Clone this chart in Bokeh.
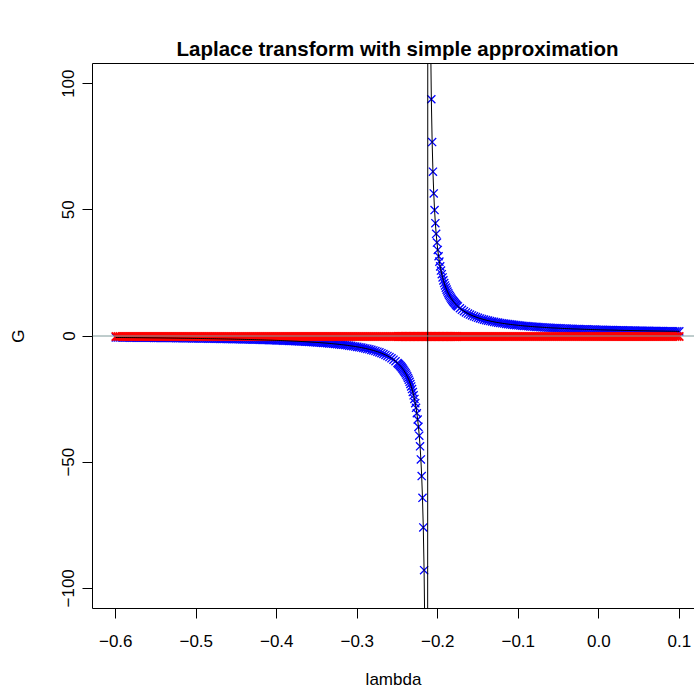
from bokeh.plotting import figure
from bokeh.models import LinearAxis, FixedTicker, Span, Range1d
from bokeh.embed import file_html
from bokeh.resources import INLINE

# ---- data ----
lam_left = [-0.6, -0.5975, -0.595, -0.5925, -0.59, -0.5875, -0.585, -0.5825, -0.58, -0.5775,
            -0.575, -0.5725, -0.57, -0.5675, -0.565, -0.5625, -0.56, -0.5575, -0.555, -0.5525,
            -0.55, -0.5475, -0.545, -0.5425, -0.54, -0.5375, -0.535, -0.5325, -0.53, -0.5275,
            -0.525, -0.5225, -0.52, -0.5175, -0.515, -0.5125, -0.51, -0.5075, -0.505, -0.5025,
            -0.5, -0.4975, -0.495, -0.4925, -0.49, -0.4875, -0.485, -0.4825, -0.48, -0.4775,
            -0.475, -0.4725, -0.47, -0.4675, -0.465, -0.4625, -0.46, -0.4575, -0.455, -0.4525,
            -0.45, -0.4475, -0.445, -0.4425, -0.44, -0.4375, -0.435, -0.4325, -0.43, -0.4275,
            -0.425, -0.4225, -0.42, -0.4175, -0.415, -0.4125, -0.41, -0.4075, -0.405, -0.4025,
            -0.4, -0.3975, -0.395, -0.3925, -0.39, -0.3875, -0.385, -0.3825, -0.38, -0.3775,
            -0.375, -0.3725, -0.37, -0.3675, -0.365, -0.3625, -0.36, -0.3575, -0.355, -0.3525,
            -0.35, -0.3475, -0.345, -0.3425, -0.34, -0.3375, -0.335, -0.3325, -0.33, -0.3275,
            -0.325, -0.3225, -0.32, -0.3175, -0.315, -0.3125, -0.31, -0.3075, -0.305, -0.3025,
            -0.3, -0.2975, -0.295, -0.2925, -0.29, -0.2875, -0.285, -0.2825, -0.28, -0.2775,
            -0.275, -0.2725, -0.27, -0.2675, -0.265, -0.2625, -0.26, -0.2575, -0.255, -0.2525,
            -0.25]
G_left = [-0.58, -0.59, -0.60, -0.61, -0.61, -0.62, -0.63, -0.64, -0.64, -0.65,
          -0.66, -0.67, -0.67, -0.68, -0.69, -0.70, -0.71, -0.72, -0.73, -0.74,
          -0.74, -0.75, -0.76, -0.77, -0.78, -0.79, -0.80, -0.81, -0.82, -0.83,
          -0.84, -0.85, -0.87, -0.88, -0.89, -0.90, -0.91, -0.92, -0.94, -0.95,
          -0.96, -0.97, -0.99, -1.00, -1.01, -1.03, -1.04, -1.06, -1.07, -1.08,
          -1.10, -1.12, -1.13, -1.15, -1.16, -1.18, -1.20, -1.21, -1.23, -1.25,
          -1.27, -1.29, -1.31, -1.33, -1.35, -1.37, -1.39, -1.41, -1.43, -1.45,
          -1.48, -1.50, -1.52, -1.55, -1.57, -1.60, -1.63, -1.65, -1.68, -1.71,
          -1.74, -1.77, -1.80, -1.83, -1.87, -1.90, -1.93, -1.97, -2.01, -2.05,
          -2.08, -2.13, -2.17, -2.21, -2.25, -2.30, -2.35, -2.40, -2.45, -2.50,
          -2.55, -2.61, -2.67, -2.73, -2.79, -2.86, -2.93, -3.00, -3.07, -3.15,
          -3.23, -3.32, -3.41, -3.50, -3.60, -3.70, -3.81, -3.92, -4.04, -4.17,
          -4.30, -4.44, -4.59, -4.75, -4.92, -5.10, -5.29, -5.50, -5.72, -5.96,
          -6.22, -6.50, -6.80, -7.14, -7.50, -7.90, -8.34, -8.83, -9.38, -10.00,
          -10.70]

lam_mid = [-0.249, -0.248, -0.247, -0.246, -0.245, -0.244, -0.243, -0.242, -0.241, -0.240,
           -0.239, -0.238, -0.237, -0.236, -0.235, -0.234, -0.233, -0.232, -0.231, -0.230,
           -0.229, -0.228, -0.227, -0.226, -0.225, -0.224, -0.223, -0.222, -0.221, -0.220,
           -0.219, -0.218, -0.217, -0.216, -0.215, -0.214, -0.213, -0.212, -0.211, -0.210,
           -0.209, -0.208, -0.207, -0.206, -0.205, -0.204, -0.203, -0.202, -0.201, -0.200,
           -0.199, -0.198, -0.197, -0.196, -0.195, -0.194, -0.193, -0.192, -0.191, -0.190,
           -0.189, -0.188, -0.187, -0.186, -0.185, -0.184, -0.183, -0.182, -0.181, -0.180,
           -0.179, -0.178, -0.177, -0.176, -0.175]
G_mid = [-11.01, -11.33, -11.67, -12.04, -12.42, -12.83, -13.27, -13.74, -14.24, -14.77,
         -15.35, -15.97, -16.64, -17.37, -18.17, -19.03, -19.99, -21.04, -22.20, -23.50,
         -24.95, -26.60, -28.47, -30.61, -33.10, -36.02, -39.50, -43.71, -48.91, -55.50,
         -64.12, -75.86, -92.83, -119.5, -167.5, -279.5, -839.5, 840.5, 280.5, 168.5,
         120.5, 93.83, 76.86, 65.12, 56.50, 49.91, 44.71, 40.50, 37.02, 34.10,
         31.61, 29.47, 27.60, 25.95, 24.50, 23.20, 22.04, 20.99, 20.03, 19.17,
         18.37, 17.64, 16.97, 16.35, 15.77, 15.24, 14.74, 14.27, 13.83, 13.42,
         13.04, 12.67, 12.33, 12.01, 11.70]

lam_right = [-0.1725, -0.17, -0.1675, -0.165, -0.1625, -0.16, -0.1575, -0.155, -0.1525, -0.15,
             -0.1475, -0.145, -0.1425, -0.14, -0.1375, -0.135, -0.1325, -0.13, -0.1275, -0.125,
             -0.1225, -0.12, -0.1175, -0.115, -0.1125, -0.11, -0.1075, -0.105, -0.1025, -0.1,
             -0.0975, -0.095, -0.0925, -0.09, -0.0875, -0.085, -0.0825, -0.08, -0.0775, -0.075,
             -0.0725, -0.07, -0.0675, -0.065, -0.0625, -0.06, -0.0575, -0.055, -0.0525, -0.05,
             -0.0475, -0.045, -0.0425, -0.04, -0.0375, -0.035, -0.0325, -0.03, -0.0275, -0.025,
             -0.0225, -0.02, -0.0175, -0.015, -0.0125, -0.01, -0.0075, -0.005, -0.0025, 0.0,
             0.0025, 0.005, 0.0075, 0.01, 0.0125, 0.015, 0.0175, 0.02, 0.0225, 0.025,
             0.0275, 0.03, 0.0325, 0.035, 0.0375, 0.04, 0.0425, 0.045, 0.0475, 0.05,
             0.0525, 0.055, 0.0575, 0.06, 0.0625, 0.065, 0.0675, 0.07, 0.0725, 0.075,
             0.0775, 0.08, 0.0825, 0.085, 0.0875, 0.09, 0.0925, 0.095, 0.0975, 0.1]
G_right = [11.00, 10.38, 9.83, 9.34, 8.90, 8.50, 8.14, 7.80, 7.50, 7.22,
           6.96, 6.72, 6.50, 6.29, 6.10, 5.92, 5.75, 5.59, 5.44, 5.30,
           5.17, 5.04, 4.92, 4.81, 4.70, 4.60, 4.50, 4.41, 4.32, 4.23,
           4.15, 4.07, 4.00, 3.93, 3.86, 3.79, 3.73, 3.67, 3.61, 3.55,
           3.50, 3.45, 3.40, 3.35, 3.30, 3.25, 3.21, 3.17, 3.13, 3.08,
           3.05, 3.01, 2.97, 2.93, 2.90, 2.87, 2.83, 2.80, 2.77, 2.74,
           2.71, 2.68, 2.65, 2.63, 2.60, 2.57, 2.55, 2.52, 2.50, 2.48,
           2.45, 2.43, 2.41, 2.39, 2.37, 2.35, 2.33, 2.31, 2.29, 2.27,
           2.25, 2.23, 2.21, 2.20, 2.18, 2.16, 2.15, 2.13, 2.12, 2.10,
           2.08, 2.07, 2.06, 2.04, 2.03, 2.01, 2.00, 1.99, 1.97, 1.96,
           1.95, 1.94, 1.92, 1.91, 1.90, 1.89, 1.88, 1.87, 1.85, 1.84]

approx_level = -0.2      # simple approximation, read as flat near zero
ref_line_y = 0           # horizontal reference line

x_ticks = [-0.6, -0.5, -0.4, -0.3, -0.2, -0.1, 0.0, 0.1]
x_tick_labels = ["\u22120.6", "\u22120.5", "\u22120.4", "\u22120.3", "\u22120.2", "\u22120.1", "0.0", "0.1"]
y_ticks = [-100, -50, 0, 50, 100]
y_tick_labels = ["\u2212100", "\u221250", "0", "50", "100"]

lam = lam_left + lam_mid + lam_right
G = G_left + G_mid + G_right
G_approx = [approx_level for _ in lam]

FONT = "Liberation Sans"

p = figure(width=694, height=693, output_backend="svg", toolbar_location=None,
           x_range=Range1d(-0.6289, 0.1189), y_range=Range1d(-108, 108),
           min_border_left=92, min_border_right=0, min_border_top=63, min_border_bottom=85,
           title="Laplace transform with simple approximation")
p.grid.visible = False
p.outline_line_color = None
p.background_fill_color = "white"
p.border_fill_color = "white"

p.title.text_font = FONT
p.title.text_font_size = "20.5px"
p.title.text_font_style = "bold"
p.title.align = "left"
p.title.offset = 84
p.title.text_color = "black"
p.title.standoff = 8

for ax in (p.xaxis[0], p.yaxis[0]):
    ax.axis_line_color = "black"
    ax.major_tick_line_color = "black"
    ax.major_tick_in = 0
    ax.major_tick_out = 10
    ax.minor_tick_line_color = None
    ax.major_label_text_font = FONT
    ax.major_label_text_font_size = "17px"
    ax.major_label_text_color = "black"
    ax.axis_label_text_font = FONT
    ax.axis_label_text_font_size = "17px"
    ax.axis_label_text_font_style = "normal"
    ax.axis_label_text_color = "black"

p.xaxis.ticker = FixedTicker(ticks=x_ticks)
p.xaxis.major_label_overrides = dict(zip(x_ticks, x_tick_labels))
p.xaxis.axis_label = "lambda"
p.xaxis.major_label_standoff = 16
p.xaxis.axis_label_standoff = 20

p.yaxis.ticker = FixedTicker(ticks=y_ticks)
p.yaxis.major_label_overrides = dict(zip(y_ticks, y_tick_labels))
p.yaxis.major_label_orientation = "vertical"
p.yaxis.axis_label = "G"
p.yaxis.major_label_standoff = 8
p.yaxis.axis_label_standoff = 32

top = LinearAxis(ticker=FixedTicker(ticks=[]), major_label_text_font_size="0px",
                 major_tick_out=0, major_tick_in=0, minor_tick_out=0, minor_tick_in=0,
                 major_label_standoff=0, axis_line_color="black")
p.add_layout(top, "above")

p.scatter(lam, G, marker="x", size=11.5, line_color="#0000FF", line_width=1.3)
p.scatter(lam, G_approx, marker="x", size=11.5, line_color="#FF0000", line_width=1.6)
p.line(lam, G, line_color="black", line_width=1)
p.add_layout(Span(location=ref_line_y, dimension="width", line_color="#7f9a9a", line_width=1))

open("out.html", "w").write(file_html(p, INLINE))
